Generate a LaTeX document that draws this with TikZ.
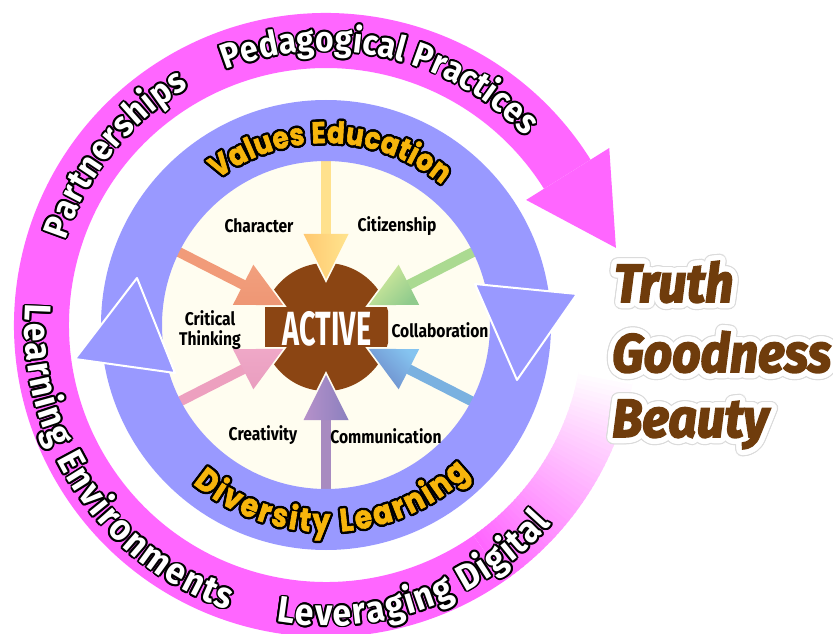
\documentclass[tikz,border=0pt]{standalone}
\usepackage{fontspec}
\usepackage[copies]{contour}
\usetikzlibrary{decorations.text,calc}
\newfontfamily\pinkfont{Fira Sans}[FakeStretch=0.91]
\newfontfamily\labfont{Fira Sans}[FakeStretch=0.85]
\newfontfamily\actfont{Fira Sans}[FakeStretch=0.6]
\newfontfamily\tgbfont{Fira Sans}[FakeStretch=0.92,FakeBold=3]
\newfontfamily\valfont{Poppins}[FakeBold=2,FakeStretch=0.87]
\definecolor{pinkc}{HTML}{FF66FF}
\definecolor{purp}{HTML}{9999FF}
\definecolor{cream}{HTML}{FFFDF0}
\definecolor{brownA}{HTML}{8B4513}
\definecolor{brownT}{HTML}{6F3C0C}
\definecolor{goldc}{HTML}{F7B50C}
\definecolor{ylwS}{HTML}{FFE18D}\definecolor{ylwA}{HTML}{FFC870}\definecolor{ylwB}{HTML}{FFE48E}
\definecolor{salS}{HTML}{F19B79}\definecolor{salA}{HTML}{F2A07E}\definecolor{salB}{HTML}{EE9674}
\definecolor{grnS}{HTML}{ABDA91}\definecolor{grnA}{HTML}{D8EC9D}\definecolor{grnB}{HTML}{90CB8D}
\definecolor{pnkS}{HTML}{EDA0BF}\definecolor{pnkA}{HTML}{EFA8C7}\definecolor{pnkB}{HTML}{E99DBF}
\definecolor{bluS}{HTML}{7AB1E0}\definecolor{bluA}{HTML}{85C4F0}\definecolor{bluB}{HTML}{6C88C8}
\definecolor{vioS}{HTML}{A88BC0}\definecolor{vioA}{HTML}{B691CA}\definecolor{vioB}{HTML}{8B80BE}
\newcommand\pinkfmt{\pinkfont\bfseries\fontsize{35}{38}\selectfont}
\newcommand\pinkW{\pinkfmt\color{white}}
\newcommand\pinkK{\pinkfmt\color{black}}
\newcommand\pinkbigfmt{\pinkfont\bfseries\fontsize{37}{40}\selectfont}
\newcommand\pinkbigW{\pinkbigfmt\color{white}}
\newcommand\pinkbigK{\pinkbigfmt\color{black}}
\newcommand\valfmt{\valfont\bfseries\fontsize{30}{33}\selectfont}
\newcommand\valY{\valfmt\color{goldc}}
\newcommand\valK{\valfmt\color{black}}
\newcommand\divfmt{\valfont\bfseries\fontsize{32}{35}\selectfont}
\newcommand\divY{\divfmt\color{goldc}}
\newcommand\divK{\divfmt\color{black}}
\newcommand\labfmt{\labfont\bfseries\fontsize{18.4}{20}\selectfont}
\newcommand\actfmt{\actfont\bfseries\fontsize{48}{50}\selectfont}
\newcommand\tgbfmt{\tgbfont\bfseries\itshape\fontsize{54}{60}\selectfont}
\contournumber{32}
\newcommand\tgbtext[1]{\rlap{\color{white}\contourlength{6.5pt}\contour{black!14}{#1}}\contourlength{5.3pt}\contour{white}{#1}}
% ring text: #1 radius, #2 start angle, #3 end angle, #4 fill format, #5 outline format, #6 text, #7 outline width
\newcommand\ringtext[7]{%
  \foreach \oa in {0,30,...,330}{%
    \begin{scope}[shift={(\oa:#7)}]
      \path[decorate,decoration={text along path,text align={fit to path},text={|#5|#6}}]
        (#2:#1) arc[start angle=#2,end angle=#3,radius=#1];
    \end{scope}
  }%
  \path[decorate,decoration={text along path,text align={fit to path},text={|#4|#6}}]
    (#2:#1) arc[start angle=#2,end angle=#3,radius=#1];
}
% radial arrow towards B: #1 angle, #2 shaft colour, #3 head shading
\newcommand\radarrow[3]{%
  \fill[#2] ($(B)+(#1:90pt)+(#1+90:5pt)$) -- ($(B)+(#1:180pt)+(#1+90:5pt)$)
    -- ($(B)+(#1:180pt)+(#1-90:5pt)$) -- ($(B)+(#1:90pt)+(#1-90:5pt)$) -- cycle;
  \draw[cream,line width=3.5pt,line join=miter]
    ($(B)+(#1:93pt)+(#1+90:22.5pt)$) -- ($(B)+(#1:48pt)$) -- ($(B)+(#1:93pt)+(#1-90:22.5pt)$);
  \shade[#3] ($(B)+(#1:93pt)+(#1+90:22.5pt)$) -- ($(B)+(#1:48pt)$)
    -- ($(B)+(#1:93pt)+(#1-90:22.5pt)$) -- cycle;
}
\tikzset{
  lab/.style={font=\labfmt,text=black,align=center,inner sep=0pt},
  tgb/.style={font=\tgbfmt,text=brownT,anchor=base west,inner sep=0pt},
  purphead/.style={fill=purp,draw=white,line width=2pt,line join=round}
}
\begin{document}
\begin{tikzpicture}[x=1pt,y=1pt]
\useasboundingbox (0,0) rectangle (833,633);
\fill[white] (0,0) rectangle (833,633);
\coordinate (C) at (326,308);
\coordinate (B) at (326,306);
% outer pink arrow
\begin{scope}[shift={(326,308)}]
  \fill[pinkc] (32:312pt) arc[start angle=32,end angle=305,radius=312pt]
    -- (305:257pt) arc[start angle=305,end angle=32,radius=257pt] -- cycle;
  \fill[pinkc] (32:236pt) -- (14.9:300pt) -- (32:334pt) -- cycle;
  \foreach \i in {0,...,44}{%
    \pgfmathsetmacro\ga{-55+\i}%
    \pgfmathsetmacro\gb{\ga+1.4}%
    \pgfmathsetmacro\gp{100-\i*100/44}%
    \fill[pinkc!\gp!white] (\ga:312pt) arc[start angle=\ga,end angle=\gb,radius=312pt]
      -- (\gb:257pt) arc[start angle=\gb,end angle=\ga,radius=257pt] -- cycle;
  }
\end{scope}
% cream disk and brown centre
\fill[cream] (C) circle[radius=166pt];
\begin{scope}
  \clip (265,0) rectangle (388,633);
  \fill[brownA] (B) circle[radius=64pt];
\end{scope}
% radial arrows
\radarrow{90}{ylwS}{left color=ylwA,right color=ylwB}
\radarrow{153}{salS}{top color=salA,bottom color=salB}
\radarrow{27}{grnS}{top color=grnA,bottom color=grnB,shading angle=45}
\radarrow{207}{pnkS}{top color=pnkA,bottom color=pnkB}
\radarrow{-27}{bluS}{top color=bluA,bottom color=bluB,shading angle=-45}
\radarrow{270}{vioS}{left color=vioA,right color=vioB}
% purple ring
\fill[purp,even odd rule] (C) circle[radius=225pt] (C) circle[radius=164pt];
\filldraw[purphead] (137,355) -- (75,274) -- (175,260) -- cycle;
\filldraw[purphead] (475,349) -- (577,339) -- (517,253) -- cycle;
% ring texts
\begin{scope}[shift={(326,308)}]
  \ringtext{274pt}{111.5}{43.5}{\pinkW}{\pinkK}{Pedagogical Practices}{1.9pt}
  \ringtext{274pt}{162}{120}{\pinkW}{\pinkK}{Partnerships}{1.9pt}
  \ringtext{301pt}{176}{251}{\pinkbigW}{\pinkbigK}{Learning Environments}{1.9pt}
  \ringtext{301pt}{260.5}{318.5}{\pinkbigW}{\pinkbigK}{Leveraging Digital}{1.9pt}
  \ringtext{182pt}{126.5}{50.5}{\valY}{\valK}{Values Education}{2.4pt}
  \ringtext{207pt}{230}{314}{\divY}{\divK}{Diversity Learning}{2.4pt}
\end{scope}
% centre labels
\node[font=\actfmt,text=white,inner sep=0pt] (active) at (327,304) {ACTIVE};
\node[lab] (character) at (259,407) {Character};
\node[lab] (citizenship) at (397,407) {Citizenship};
\node[lab] (critical) at (210,303) {Critical\\Thinking};
\node[lab] (collaboration) at (440,303) {Collaboration};
\node[lab] (creativity) at (263,198) {Creativity};
\node[lab] (communication) at (386,197) {Communication};
% truth goodness beauty
\node[tgb] (truth) at (614,331) {\tgbtext{Truth}};
\node[tgb] (goodness) at (612,261) {\tgbtext{Goodness}};
\node[tgb] (beauty) at (612,196) {\tgbtext{Beauty}};
\end{tikzpicture}
\end{document}
